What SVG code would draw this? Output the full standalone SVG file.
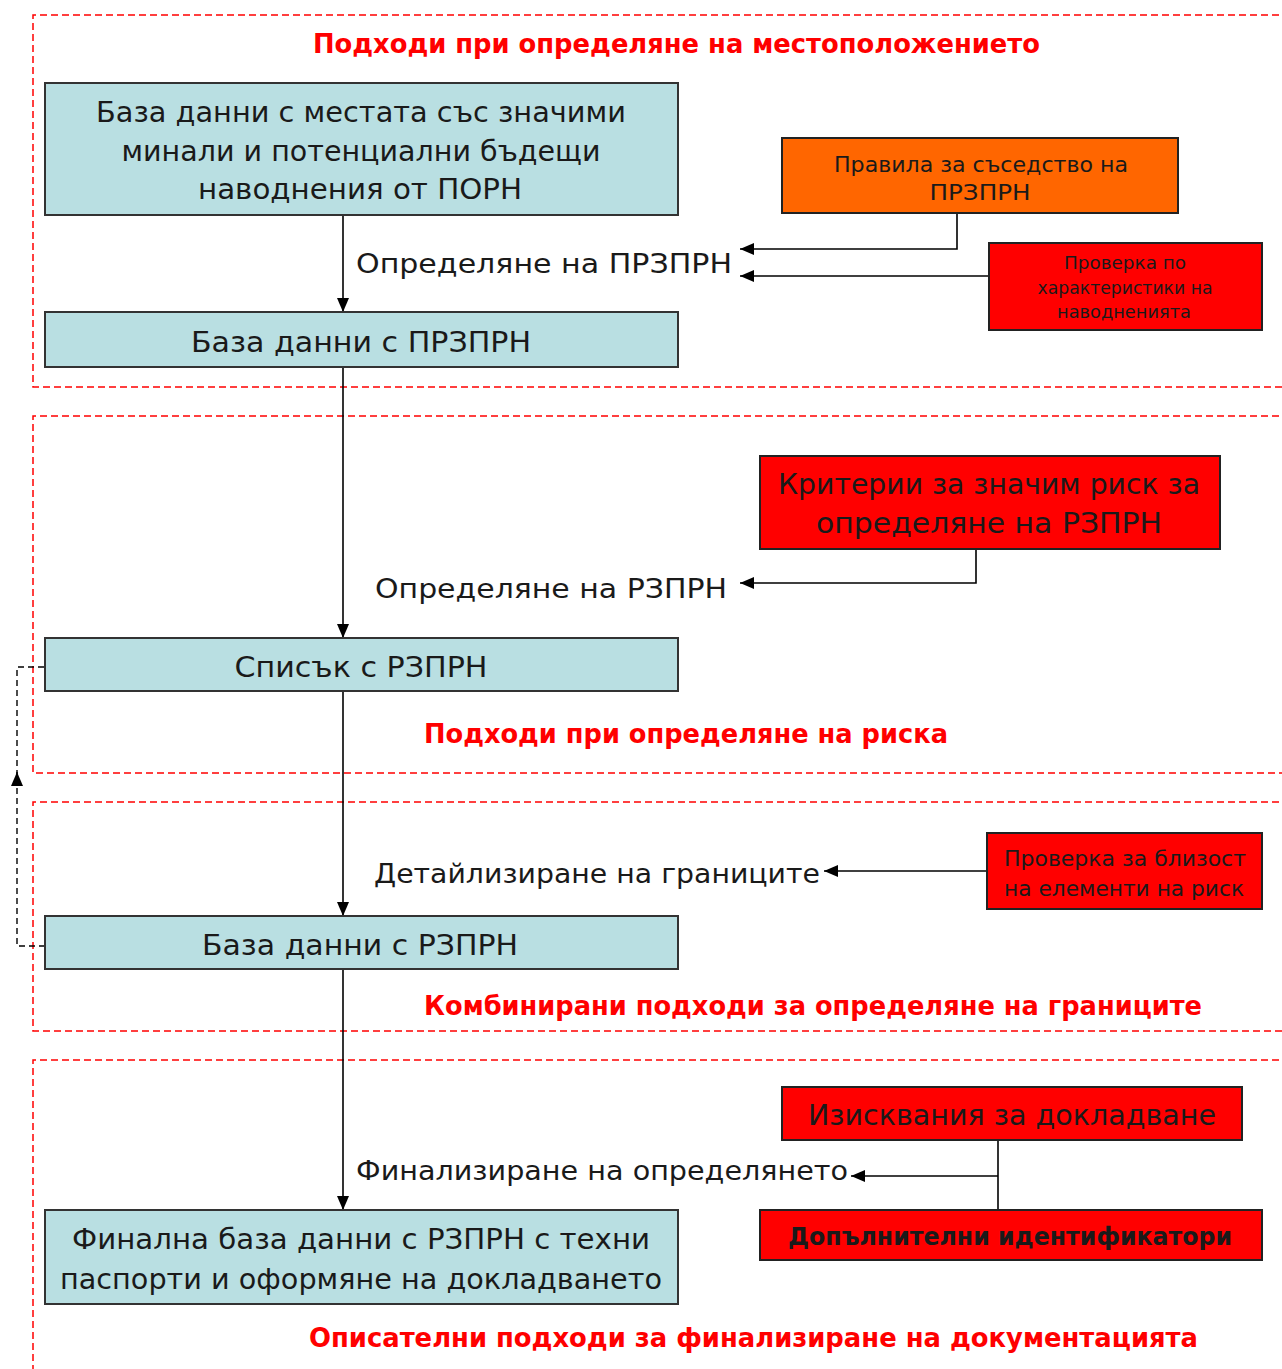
<svg xmlns="http://www.w3.org/2000/svg" width="1282" height="1369" viewBox="0 0 1282 1369">
<style>
.sec{fill:none;stroke:#ff0000;stroke-width:1.5;stroke-dasharray:7,4}
.blue{fill:#b9dfe2;stroke:#333;stroke-width:2}
.red{fill:#ff0000;stroke:#222;stroke-width:2}
.org{fill:#ff6600;stroke:#222;stroke-width:2}
.t{font-family:"DejaVu Sans","Liberation Sans",sans-serif;fill:#1a1a1a;text-anchor:middle}
.lbl{font-family:"DejaVu Sans","Liberation Sans",sans-serif;fill:#1a1a1a}
.ttl{font-family:"DejaVu Sans","Liberation Sans",sans-serif;font-weight:bold;fill:#ff0000;font-size:27px}
.ln{fill:none;stroke:#000;stroke-width:1.6}
.dl{fill:none;stroke:#000;stroke-width:1.4;stroke-dasharray:6,4}
</style>
<defs>
<marker id="ah" viewBox="0 0 14 12" refX="14" refY="6" markerWidth="14" markerHeight="12" markerUnits="userSpaceOnUse" orient="auto">
<path d="M0,0 L14,6 L0,12 Z" fill="#000"/>
</marker>
</defs>
<rect width="1282" height="1369" fill="#fff"/>
<g id="sections">
<path class="sec" d="M1290,15 H33 V387 H1290"/>
<path class="sec" d="M1290,416 H33 V773 H1290"/>
<path class="sec" d="M1290,802 H33 V1031 H1290"/>
<path class="sec" d="M1290,1060 H33 V1375"/>
<text class="ttl" x="313" y="53" textLength="727" lengthAdjust="spacingAndGlyphs">Подходи при определяне на местоположението</text>
<text class="ttl" x="424" y="743" textLength="524" lengthAdjust="spacingAndGlyphs">Подходи при определяне на риска</text>
<text class="ttl" x="424" y="1015" textLength="778" lengthAdjust="spacingAndGlyphs">Комбинирани подходи за определяне на границите</text>
<text class="ttl" x="309" y="1347" textLength="889" lengthAdjust="spacingAndGlyphs">Описателни подходи за финализиране на документацията</text>
</g>
<g id="connectors">
<path class="ln" d="M343,215 V312" marker-end="url(#ah)"/>
<path class="ln" d="M343,367 V638" marker-end="url(#ah)"/>
<path class="ln" d="M343,691 V916" marker-end="url(#ah)"/>
<path class="ln" d="M343,969 V1210" marker-end="url(#ah)"/>
<path class="ln" d="M957,213 V249 H740" marker-end="url(#ah)"/>
<path class="ln" d="M989,276 H740" marker-end="url(#ah)"/>
<path class="ln" d="M976,549 V583 H740" marker-end="url(#ah)"/>
<path class="ln" d="M987,871 H824" marker-end="url(#ah)"/>
<path class="ln" d="M998,1140 V1210"/>
<path class="ln" d="M998,1176 H851" marker-end="url(#ah)"/>
<path class="dl" d="M45,946 H17 V772" marker-end="url(#ah)"/>
<path class="dl" d="M17,776 V667 H45"/>
<text class="lbl" x="356" y="273" font-size="26" textLength="376" lengthAdjust="spacingAndGlyphs">Определяне на ПРЗПРН</text>
<text class="lbl" x="375" y="598" font-size="26" textLength="352" lengthAdjust="spacingAndGlyphs">Определяне на РЗПРН</text>
<text class="lbl" x="374" y="883" font-size="26" textLength="446" lengthAdjust="spacingAndGlyphs">Детайлизиране на границите</text>
<text class="lbl" x="356" y="1180" font-size="26" textLength="492" lengthAdjust="spacingAndGlyphs">Финализиране на определянето</text>
</g>
<g id="n1">
<rect class="blue" x="45" y="83" width="633" height="132"/>
<text class="t" x="361" y="122" font-size="28" textLength="530" lengthAdjust="spacingAndGlyphs">База данни с местата със значими</text>
<text class="t" x="361" y="161" font-size="28" textLength="479" lengthAdjust="spacingAndGlyphs">минали и потенциални бъдещи</text>
<text class="t" x="360" y="199" font-size="28" textLength="324" lengthAdjust="spacingAndGlyphs">наводнения от ПОРН</text>
</g>
<g id="n2">
<rect class="blue" x="45" y="312" width="633" height="55"/>
<text class="t" x="361" y="352" font-size="28" textLength="340" lengthAdjust="spacingAndGlyphs">База данни с ПРЗПРН</text>
</g>
<g id="n3">
<rect class="blue" x="45" y="638" width="633" height="53"/>
<text class="t" x="361" y="677" font-size="28" textLength="253" lengthAdjust="spacingAndGlyphs">Списък с РЗПРН</text>
</g>
<g id="n4">
<rect class="blue" x="45" y="916" width="633" height="53"/>
<text class="t" x="360" y="955" font-size="28" textLength="316" lengthAdjust="spacingAndGlyphs">База данни с РЗПРН</text>
</g>
<g id="n5">
<rect class="blue" x="45" y="1210" width="633" height="94"/>
<text class="t" x="361" y="1249" font-size="28" textLength="578" lengthAdjust="spacingAndGlyphs">Финална база данни с РЗПРН с техни</text>
<text class="t" x="361" y="1289" font-size="28" textLength="602" lengthAdjust="spacingAndGlyphs">паспорти и оформяне на докладването</text>
</g>
<g id="o1">
<rect class="org" x="782" y="138" width="396" height="75"/>
<text class="t" x="981" y="172" font-size="22" textLength="294" lengthAdjust="spacingAndGlyphs">Правила за съседство на</text>
<text class="t" x="980" y="200" font-size="22" textLength="101" lengthAdjust="spacingAndGlyphs">ПРЗПРН</text>
</g>
<g id="r1">
<rect class="red" x="989" y="243" width="273" height="87"/>
<text class="t" x="1125" y="269" font-size="18" textLength="122" lengthAdjust="spacingAndGlyphs">Проверка по</text>
<text class="t" x="1125" y="294" font-size="18" textLength="175" lengthAdjust="spacingAndGlyphs">характеристики на</text>
<text class="t" x="1124" y="318" font-size="18" textLength="134" lengthAdjust="spacingAndGlyphs">наводненията</text>
</g>
<g id="r2">
<rect class="red" x="760" y="456" width="460" height="93"/>
<text class="t" x="989" y="494" font-size="28" textLength="422" lengthAdjust="spacingAndGlyphs">Критерии за значим риск за</text>
<text class="t" x="989" y="533" font-size="28" textLength="346" lengthAdjust="spacingAndGlyphs">определяне на РЗПРН</text>
</g>
<g id="r3">
<rect class="red" x="987" y="833" width="275" height="76"/>
<text class="t" x="1125" y="866" font-size="22" textLength="242" lengthAdjust="spacingAndGlyphs">Проверка за близост</text>
<text class="t" x="1124" y="896" font-size="22" textLength="240" lengthAdjust="spacingAndGlyphs">на елементи на риск</text>
</g>
<g id="r4">
<rect class="red" x="782" y="1087" width="460" height="53"/>
<text class="t" x="1012" y="1125" font-size="28" textLength="408" lengthAdjust="spacingAndGlyphs">Изисквания за докладване</text>
</g>
<g id="r5">
<rect class="red" x="760" y="1210" width="502" height="50"/>
<text class="t" x="1010" y="1245" font-size="25" font-weight="bold" fill="#000" textLength="444" lengthAdjust="spacingAndGlyphs">Допълнителни идентификатори</text>
</g>
</svg>
